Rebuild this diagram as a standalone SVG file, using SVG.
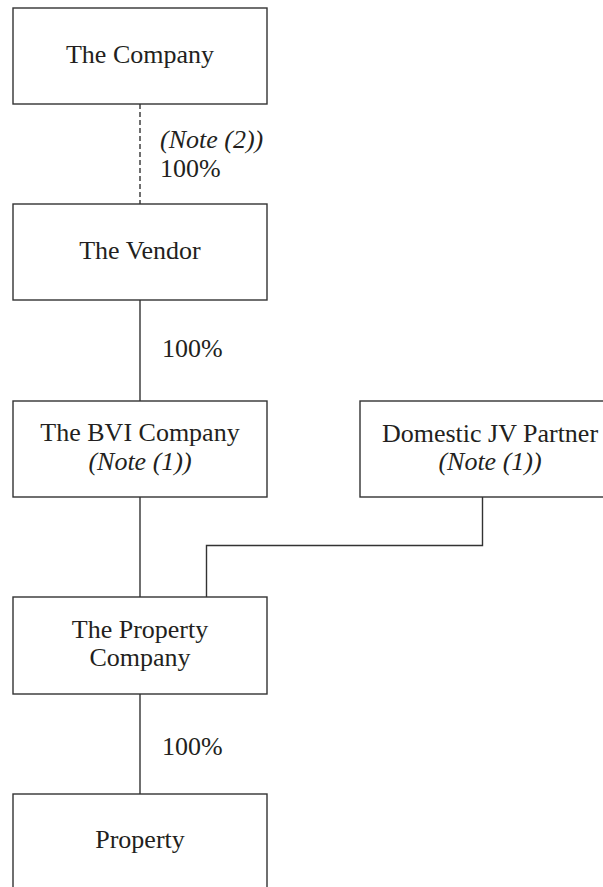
<svg xmlns="http://www.w3.org/2000/svg" width="603" height="887" viewBox="0 0 603 887">
<style>
.box{fill:#fff;stroke:#333;stroke-width:1.4}
.t{font-family:"Liberation Serif","Times New Roman",serif;font-size:26px;fill:#231f20}
.c{text-anchor:middle}
.i{font-style:italic}
.ln{fill:none;stroke:#333;stroke-width:1.4}
.dash{stroke-dasharray:5,3}
</style>
<rect width="603" height="887" fill="#fff"/>
<g id="connectors">
<line class="ln dash" x1="140" y1="104" x2="140" y2="204"/>
<line class="ln" x1="140" y1="300" x2="140" y2="401"/>
<line class="ln" x1="140" y1="497" x2="140" y2="597"/>
<polyline class="ln" points="482.5,497 482.5,545.5 206.5,545.5 206.5,597"/>
<line class="ln" x1="140" y1="694" x2="140" y2="794"/>
<text class="t i" x="160" y="148">(Note (2))</text>
<text class="t" x="160" y="177">100%</text>
<text class="t" x="162" y="357">100%</text>
<text class="t" x="162" y="755">100%</text>
</g>
<g id="company">
<rect class="box" x="13" y="8" width="254" height="96"/>
<text class="t c" x="140" y="63">The Company</text>
</g>
<g id="vendor">
<rect class="box" x="13" y="204" width="254" height="96"/>
<text class="t c" x="140" y="259">The Vendor</text>
</g>
<g id="bvi">
<rect class="box" x="13" y="401" width="254" height="96"/>
<text class="t c" x="140" y="441">The BVI Company</text>
<text class="t c i" x="140" y="470">(Note (1))</text>
</g>
<g id="jv">
<rect class="box" x="360" y="401" width="260" height="96"/>
<text class="t c" x="490" y="441.5">Domestic JV Partner</text>
<text class="t c i" x="490" y="470">(Note (1))</text>
</g>
<g id="propco">
<rect class="box" x="13" y="597" width="254" height="97"/>
<text class="t c" x="140" y="638">The Property</text>
<text class="t c" x="140" y="666">Company</text>
</g>
<g id="property">
<rect class="box" x="13" y="794" width="254" height="120"/>
<text class="t c" x="140" y="848">Property</text>
</g>
</svg>
